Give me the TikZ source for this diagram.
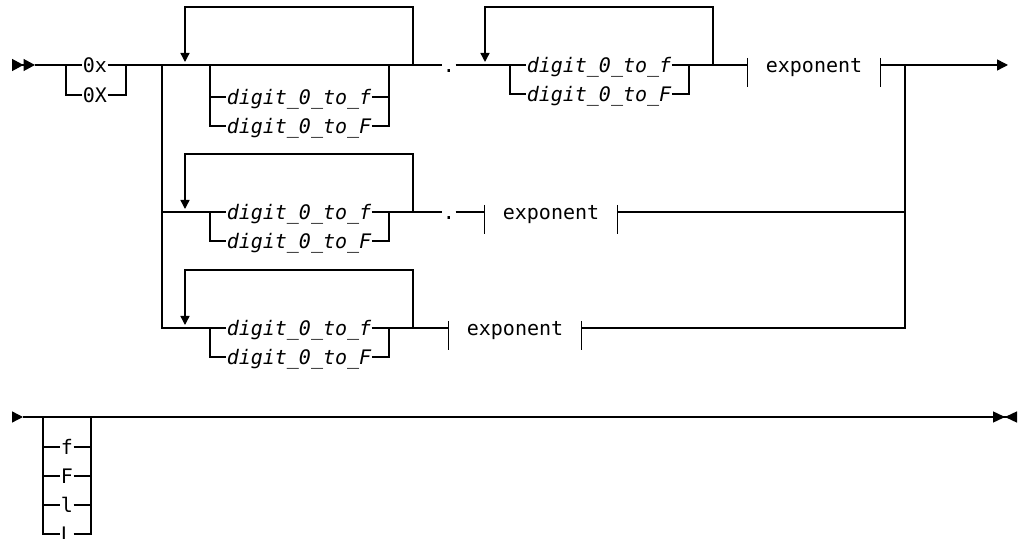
\documentclass[tikz,border=0pt]{standalone}
\usepackage{fontspec}
\setmonofont{DejaVu Sans Mono}
\usetikzlibrary{arrows.meta}

\begin{document}
\begin{tikzpicture}[
        x=0.5pt,y=-0.5pt,line width=0.7pt,
        term/.style={font=\ttfamily,inner sep=0pt,text height=8pt,text depth=0pt},
        var/.style={term,font=\ttfamily\itshape},
        frag/.style={term,minimum width=66pt},
        back/.style={-{Triangle[length=4.5pt,width=4.5pt]},shorten >=1.5pt},
        startmark/.style={-{Triangle[length=5.75pt,width=6pt]Triangle[length=5.75pt,width=6pt]}},
        contmark/.style={-{Triangle[length=5.5pt,width=5.5pt]}},
        endmark/.style={-{Triangle[length=6pt,width=5.5pt]Triangle[length=6pt,width=5.5pt,reversed]}}
    ]
    \useasboundingbox (0,0) rectangle (1018,539);
    \coordinate (beg1) at (12,65);
    \coordinate (st1) at (35,65);
    \coordinate (end1) at (1008,65);
    \coordinate (a1) at (66,65);
    \coordinate (b1) at (126,65);
    \coordinate (tl) at (162,65);
    \coordinate (tr) at (905,65);
    \node[term] (hx) at (95,65) {0x};
    \node[term] (hX) at (95,95) {0X};
    \node[term] (dot1) at (449,65) {.};
    \node[term] (dot2) at (449,212) {.};
    \node[frag] (e1) at (814,65) {exponent};
    \node[frag] (e2) at (551,212) {exponent};
    \node[frag] (e3) at (515,328) {exponent};
    \foreach \r/\x/\y/\u in {1/185/65/97,2/185/212/212,3/185/328/328,4/485/65/65}{
        \node[var] (lo\r) at (\x+114,\u) {digit\_0\_to\_f};
        \node[var] (up\r) at (\x+114,\u+29) {digit\_0\_to\_F};
        \coordinate (ll\r) at (\x,\y);
        \coordinate (al\r) at (\x+25,\y);
        \coordinate (ar\r) at (\x+204,\y);
        \coordinate (lr\r) at (\x+228,\y);
        \coordinate (lt\r) at (\x+228,\y-58);
        \draw (al\r) |- (lo\r.west) (al\r) |- (up\r.west)
            (lo\r.east) -| (ar\r) (up\r.east) -| (ar\r);
        \draw[back] (lr\r) -- (lt\r) -| (ll\r);
    }
    \draw[startmark] (beg1) -- (st1);
    \draw (st1) -- (hx) (hx) -- (dot1) (dot1) -- (lo4) (lo4) -- (e1);
    \draw (a1) |- (hX.west) (hX.east) -| (b1);
    \draw[contmark] (e1) -- (end1);
    \draw (tl) |- (lo2.west) (tl) |- (lo3.west);
    \draw (lo2) -- (dot2) (dot2) -- (e2);
    \draw (lo3) -- (e3);
    \draw (e2) -| (tr) (e3) -| (tr);
    \foreach \e in {e1,e2,e3}
        \draw (\e.west) ++(0,-7) -- ++(0,29) (\e.east) ++(0,-7) -- ++(0,29);
    \coordinate (beg2) at (12,417);
    \coordinate (st2) at (23,417);
    \coordinate (end2) at (1017,417);
    \coordinate (sa) at (43,417);
    \coordinate (sb) at (91,417);
    \draw[contmark] (beg2) -- (st2);
    \draw[endmark] (st2) -- (end2);
    \foreach \t [count=\i] in {f,F,l,L}{
        \node[term] (suf\i) at (67,418+29*\i) {\t};
        \draw (sa) |- (suf\i.west) (suf\i.east) -| (sb);
    }
\end{tikzpicture}
\end{document}
